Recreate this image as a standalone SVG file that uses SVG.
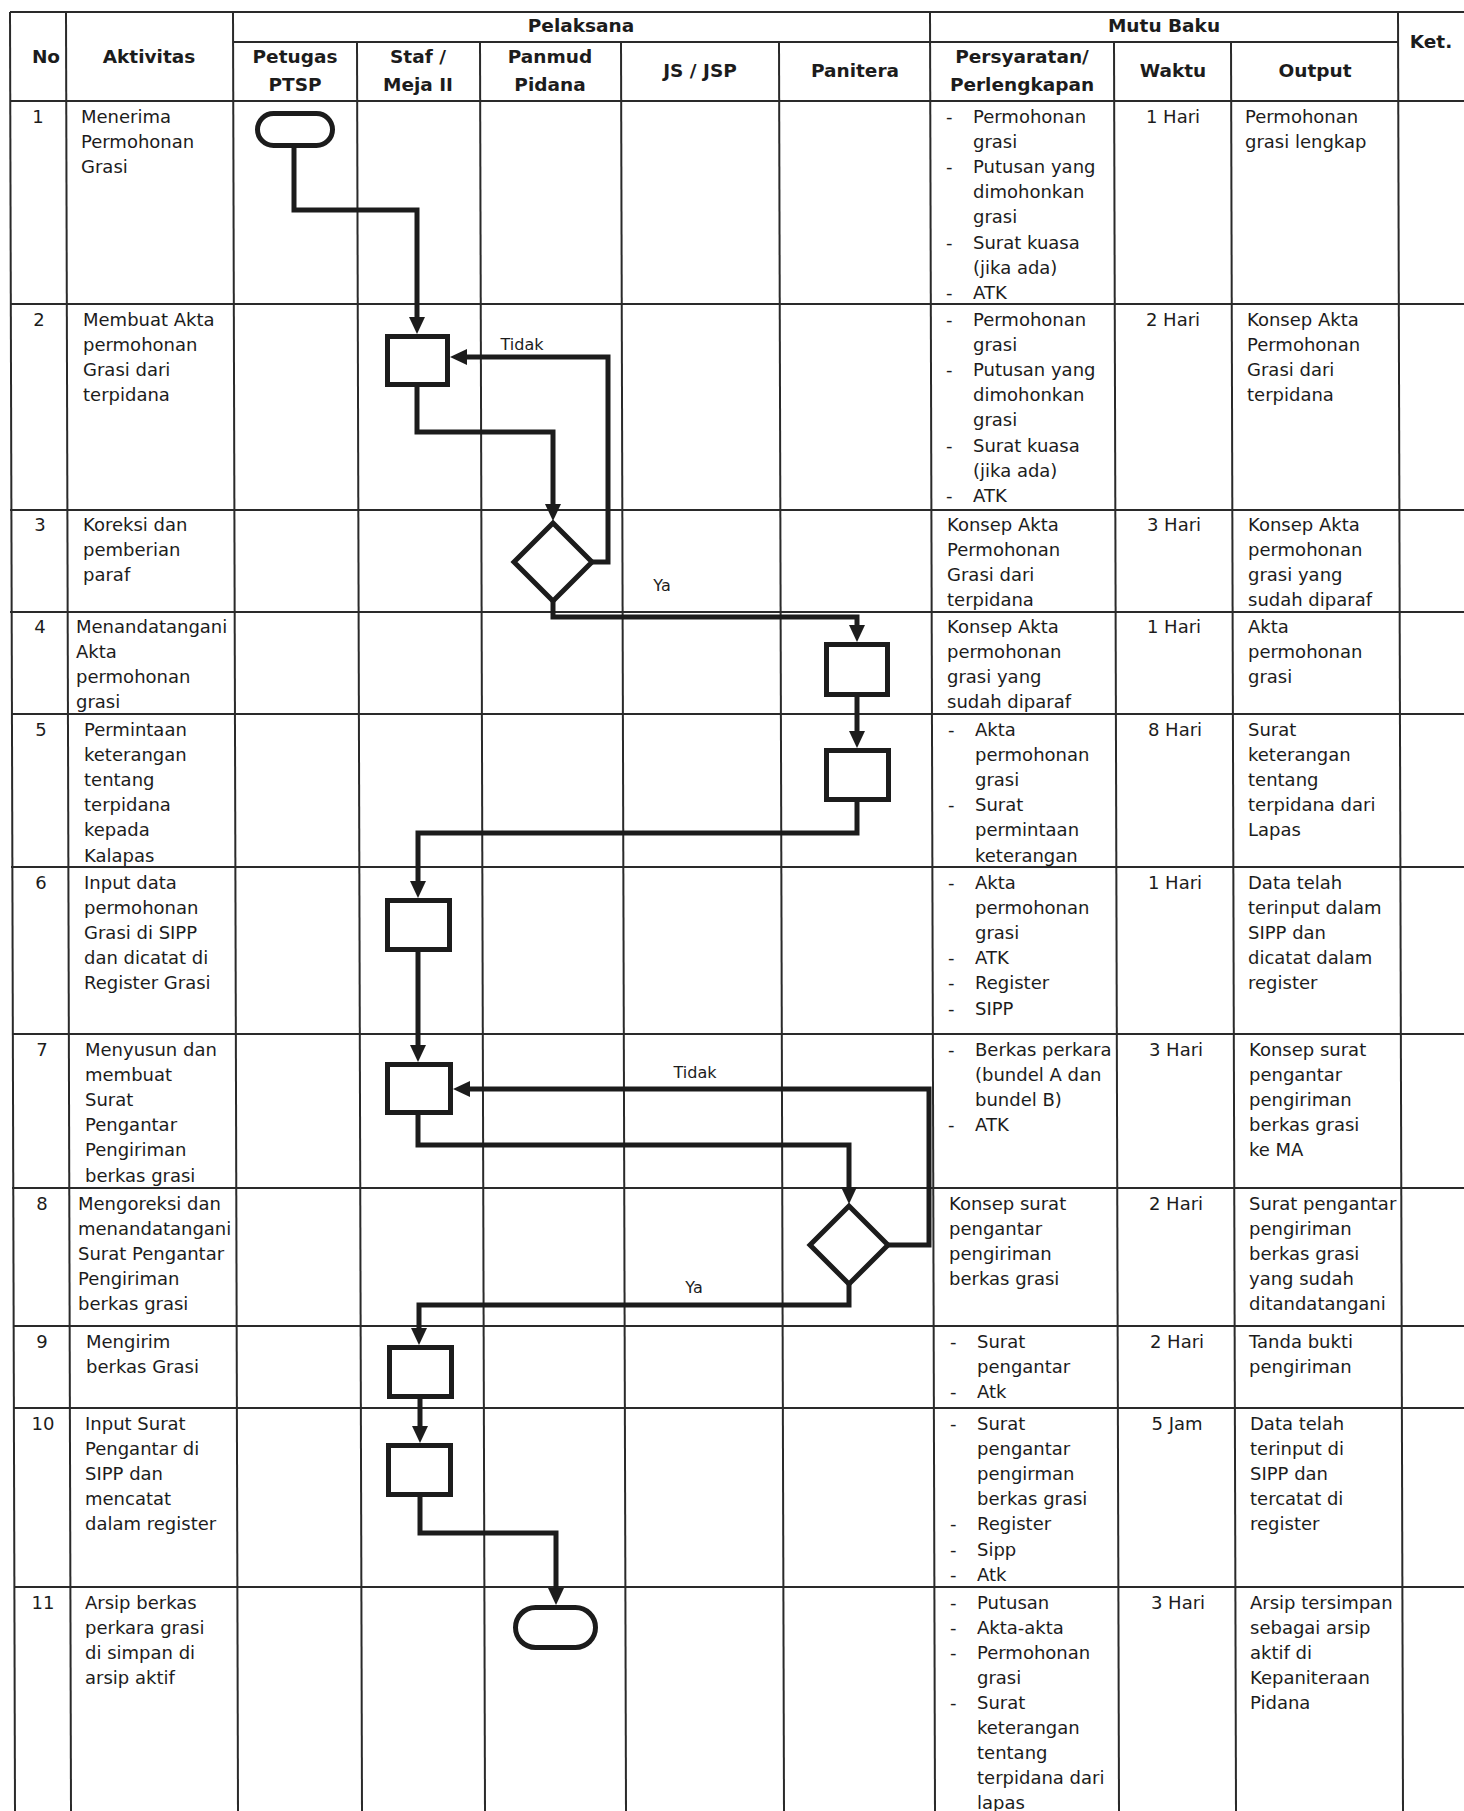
<svg xmlns="http://www.w3.org/2000/svg" width="1464" height="1811" viewBox="0 0 1464 1811">
<style>
.grid{stroke:#2a2a2a;stroke-width:2;fill:none}
.shape{fill:none;stroke:#1c1c1c;stroke-width:5}
.flow{fill:none;stroke:#1c1c1c;stroke-width:5;stroke-linejoin:miter;marker-end:url(#arr)}
text{font-family:"DejaVu Sans",Verdana,sans-serif;font-size:18px;fill:#1c1c1c}
.h{font-weight:bold;font-size:18.5px}
.c{text-anchor:middle}
.lbl{font-size:16px}
</style>
<defs>
<marker id="arr" markerUnits="userSpaceOnUse" markerWidth="17" markerHeight="16" refX="8" refY="8" orient="auto">
<path d="M0,0 L17,8 L0,16 z" fill="#1c1c1c"/>
</marker>
</defs>
<rect width="1464" height="1811" fill="#fff"/>

<g id="table">
<line class="grid" x1="10" y1="12" x2="1464" y2="12"/>
<line class="grid" x1="233" y1="42" x2="1398" y2="42"/>
<line class="grid" x1="10" y1="101" x2="1464" y2="101"/>
<line class="grid" x1="10" y1="304" x2="1464" y2="304"/>
<line class="grid" x1="10" y1="510" x2="1464" y2="510"/>
<line class="grid" x1="10" y1="612" x2="1464" y2="612"/>
<line class="grid" x1="11" y1="714" x2="1464" y2="714"/>
<line class="grid" x1="11" y1="867" x2="1464" y2="867"/>
<line class="grid" x1="12" y1="1034" x2="1464" y2="1034"/>
<line class="grid" x1="12" y1="1188" x2="1464" y2="1188"/>
<line class="grid" x1="13" y1="1326" x2="1464" y2="1326"/>
<line class="grid" x1="13" y1="1408" x2="1464" y2="1408"/>
<line class="grid" x1="14" y1="1587" x2="1464" y2="1587"/>
<line class="grid" x1="10" y1="12" x2="15" y2="1811"/>
<line class="grid" x1="66" y1="12" x2="71" y2="1811"/>
<line class="grid" x1="233" y1="12" x2="238" y2="1811"/>
<line class="grid" x1="357" y1="42" x2="362" y2="1811"/>
<line class="grid" x1="480" y1="42" x2="485" y2="1811"/>
<line class="grid" x1="621" y1="42" x2="626" y2="1811"/>
<line class="grid" x1="779" y1="42" x2="784" y2="1811"/>
<line class="grid" x1="930" y1="12" x2="935" y2="1811"/>
<line class="grid" x1="1114" y1="42" x2="1119" y2="1811"/>
<line class="grid" x1="1231" y1="42" x2="1236" y2="1811"/>
<line class="grid" x1="1398" y1="12" x2="1403" y2="1811"/>
</g>

<g id="header">
<text class="h c" x="46" y="63">No</text>
<text class="h c" x="149" y="63">Aktivitas</text>
<text class="h c" x="581" y="32">Pelaksana</text>
<text class="h c" x="1164" y="32">Mutu Baku</text>
<text class="h c" x="1431" y="48">Ket.</text>
<text class="h c" x="295" y="63">Petugas<tspan x="295" y="91">PTSP</tspan></text>
<text class="h c" x="418" y="63">Staf /<tspan x="418" y="91">Meja II</tspan></text>
<text class="h c" x="550" y="63">Panmud<tspan x="550" y="91">Pidana</tspan></text>
<text class="h c" x="700" y="77">JS / JSP</text>
<text class="h c" x="855" y="77">Panitera</text>
<text class="h c" x="1022" y="63">Persyaratan/<tspan x="1022" y="91">Perlengkapan</tspan></text>
<text class="h c" x="1173" y="77">Waktu</text>
<text class="h c" x="1315" y="77">Output</text>
</g>

<g id="row1">
<text class="c" x="38" y="123">1</text>
<text x="81" y="123">Menerima<tspan x="81" dy="25">Permohonan</tspan><tspan x="81" dy="25">Grasi</tspan></text>
<text x="946" y="123">-</text><text x="946" y="173.2">-</text><text x="946" y="248.5">-</text><text x="946" y="298.7">-</text>
<text x="973" y="123">Permohonan<tspan x="973" dy="25.1">grasi</tspan><tspan x="973" dy="25.1">Putusan yang</tspan><tspan x="973" dy="25.1">dimohonkan</tspan><tspan x="973" dy="25.1">grasi</tspan><tspan x="973" dy="25.1">Surat kuasa</tspan><tspan x="973" dy="25.1">(jika ada)</tspan><tspan x="973" dy="25.1">ATK</tspan></text>
<text class="c" x="1173" y="123">1 Hari</text>
<text x="1245" y="123">Permohonan<tspan x="1245" dy="25.1">grasi lengkap</tspan></text>
</g>

<g id="row2">
<text class="c" x="39" y="326">2</text>
<text x="83" y="326">Membuat Akta<tspan x="83" dy="25.1">permohonan</tspan><tspan x="83" dy="25.1">Grasi dari</tspan><tspan x="83" dy="25.1">terpidana</tspan></text>
<text x="946" y="326">-</text><text x="946" y="376.2">-</text><text x="946" y="451.5">-</text><text x="946" y="501.7">-</text>
<text x="973" y="326">Permohonan<tspan x="973" dy="25.1">grasi</tspan><tspan x="973" dy="25.1">Putusan yang</tspan><tspan x="973" dy="25.1">dimohonkan</tspan><tspan x="973" dy="25.1">grasi</tspan><tspan x="973" dy="25.1">Surat kuasa</tspan><tspan x="973" dy="25.1">(jika ada)</tspan><tspan x="973" dy="25.1">ATK</tspan></text>
<text class="c" x="1173" y="326">2 Hari</text>
<text x="1247" y="326">Konsep Akta<tspan x="1247" dy="25.1">Permohonan</tspan><tspan x="1247" dy="25.1">Grasi dari</tspan><tspan x="1247" dy="25.1">terpidana</tspan></text>
</g>

<g id="row3">
<text class="c" x="40" y="531">3</text>
<text x="83" y="531">Koreksi dan<tspan x="83" dy="25.1">pemberian</tspan><tspan x="83" dy="25.1">paraf</tspan></text>
<text x="947" y="531">Konsep Akta<tspan x="947" dy="25.1">Permohonan</tspan><tspan x="947" dy="25.1">Grasi dari</tspan><tspan x="947" dy="25.1">terpidana</tspan></text>
<text class="c" x="1174" y="531">3 Hari</text>
<text x="1248" y="531">Konsep Akta<tspan x="1248" dy="25.1">permohonan</tspan><tspan x="1248" dy="25.1">grasi yang</tspan><tspan x="1248" dy="25.1">sudah diparaf</tspan></text>
</g>

<g id="row4">
<text class="c" x="40" y="633">4</text>
<text x="76" y="633">Menandatangani<tspan x="76" dy="25.1">Akta</tspan><tspan x="76" dy="25.1">permohonan</tspan><tspan x="76" dy="25.1">grasi</tspan></text>
<text x="947" y="633">Konsep Akta<tspan x="947" dy="25.1">permohonan</tspan><tspan x="947" dy="25.1">grasi yang</tspan><tspan x="947" dy="25.1">sudah diparaf</tspan></text>
<text class="c" x="1174" y="633">1 Hari</text>
<text x="1248" y="633">Akta<tspan x="1248" dy="25.1">permohonan</tspan><tspan x="1248" dy="25.1">grasi</tspan></text>
</g>

<g id="row5">
<text class="c" x="41" y="736">5</text>
<text x="84" y="736">Permintaan<tspan x="84" dy="25.1">keterangan</tspan><tspan x="84" dy="25.1">tentang</tspan><tspan x="84" dy="25.1">terpidana</tspan><tspan x="84" dy="25.1">kepada</tspan><tspan x="84" dy="25.1">Kalapas</tspan></text>
<text x="948" y="736">-</text><text x="948" y="811.3">-</text>
<text x="975" y="736">Akta<tspan x="975" dy="25.1">permohonan</tspan><tspan x="975" dy="25.1">grasi</tspan><tspan x="975" dy="25.1">Surat</tspan><tspan x="975" dy="25.1">permintaan</tspan><tspan x="975" dy="25.1">keterangan</tspan></text>
<text class="c" x="1175" y="736">8 Hari</text>
<text x="1248" y="736">Surat<tspan x="1248" dy="25.1">keterangan</tspan><tspan x="1248" dy="25.1">tentang</tspan><tspan x="1248" dy="25.1">terpidana dari</tspan><tspan x="1248" dy="25.1">Lapas</tspan></text>
</g>

<g id="row6">
<text class="c" x="41" y="889">6</text>
<text x="84" y="889">Input data<tspan x="84" dy="25.1">permohonan</tspan><tspan x="84" dy="25.1">Grasi di SIPP</tspan><tspan x="84" dy="25.1">dan dicatat di</tspan><tspan x="84" dy="25.1">Register Grasi</tspan></text>
<text x="948" y="889">-</text><text x="948" y="964.3">-</text><text x="948" y="989.4">-</text><text x="948" y="1014.5">-</text>
<text x="975" y="889">Akta<tspan x="975" dy="25.1">permohonan</tspan><tspan x="975" dy="25.1">grasi</tspan><tspan x="975" dy="25.1">ATK</tspan><tspan x="975" dy="25.1">Register</tspan><tspan x="975" dy="25.1">SIPP</tspan></text>
<text class="c" x="1175" y="889">1 Hari</text>
<text x="1248" y="889">Data telah<tspan x="1248" dy="25.1">terinput dalam</tspan><tspan x="1248" dy="25.1">SIPP dan</tspan><tspan x="1248" dy="25.1">dicatat dalam</tspan><tspan x="1248" dy="25.1">register</tspan></text>
</g>

<g id="row7">
<text class="c" x="42" y="1056">7</text>
<text x="85" y="1056">Menyusun dan<tspan x="85" dy="25.1">membuat</tspan><tspan x="85" dy="25.1">Surat</tspan><tspan x="85" dy="25.1">Pengantar</tspan><tspan x="85" dy="25.1">Pengiriman</tspan><tspan x="85" dy="25.1">berkas grasi</tspan></text>
<text x="948" y="1056">-</text><text x="948" y="1131.3">-</text>
<text x="975" y="1056">Berkas perkara<tspan x="975" dy="25.1">(bundel A dan</tspan><tspan x="975" dy="25.1">bundel B)</tspan><tspan x="975" dy="25.1">ATK</tspan></text>
<text class="c" x="1176" y="1056">3 Hari</text>
<text x="1249" y="1056">Konsep surat<tspan x="1249" dy="25.1">pengantar</tspan><tspan x="1249" dy="25.1">pengiriman</tspan><tspan x="1249" dy="25.1">berkas grasi</tspan><tspan x="1249" dy="25.1">ke MA</tspan></text>
</g>

<g id="row8">
<text class="c" x="42" y="1210">8</text>
<text x="78" y="1210">Mengoreksi dan<tspan x="78" dy="25.1">menandatangani</tspan><tspan x="78" dy="25.1">Surat Pengantar</tspan><tspan x="78" dy="25.1">Pengiriman</tspan><tspan x="78" dy="25.1">berkas grasi</tspan></text>
<text x="949" y="1210">Konsep surat<tspan x="949" dy="25.1">pengantar</tspan><tspan x="949" dy="25.1">pengiriman</tspan><tspan x="949" dy="25.1">berkas grasi</tspan></text>
<text class="c" x="1176" y="1210">2 Hari</text>
<text x="1249" y="1210">Surat pengantar<tspan x="1249" dy="25.1">pengiriman</tspan><tspan x="1249" dy="25.1">berkas grasi</tspan><tspan x="1249" dy="25.1">yang sudah</tspan><tspan x="1249" dy="25.1">ditandatangani</tspan></text>
</g>

<g id="row9">
<text class="c" x="42" y="1348">9</text>
<text x="86" y="1348">Mengirim<tspan x="86" dy="25.1">berkas Grasi</tspan></text>
<text x="950" y="1348">-</text><text x="950" y="1398.2">-</text>
<text x="977" y="1348">Surat<tspan x="977" dy="25.1">pengantar</tspan><tspan x="977" dy="25.1">Atk</tspan></text>
<text class="c" x="1177" y="1348">2 Hari</text>
<text x="1249" y="1348">Tanda bukti<tspan x="1249" dy="25.1">pengiriman</tspan></text>
</g>

<g id="row10">
<text class="c" x="43" y="1430">10</text>
<text x="85" y="1430">Input Surat<tspan x="85" dy="25.1">Pengantar di</tspan><tspan x="85" dy="25.1">SIPP dan</tspan><tspan x="85" dy="25.1">mencatat</tspan><tspan x="85" dy="25.1">dalam register</tspan></text>
<text x="950" y="1430">-</text><text x="950" y="1530.4">-</text><text x="950" y="1555.5">-</text><text x="950" y="1580.6">-</text>
<text x="977" y="1430">Surat<tspan x="977" dy="25.1">pengantar</tspan><tspan x="977" dy="25.1">pengirman</tspan><tspan x="977" dy="25.1">berkas grasi</tspan><tspan x="977" dy="25.1">Register</tspan><tspan x="977" dy="25.1">Sipp</tspan><tspan x="977" dy="25.1">Atk</tspan></text>
<text class="c" x="1177" y="1430">5 Jam</text>
<text x="1250" y="1430">Data telah<tspan x="1250" dy="25.1">terinput di</tspan><tspan x="1250" dy="25.1">SIPP dan</tspan><tspan x="1250" dy="25.1">tercatat di</tspan><tspan x="1250" dy="25.1">register</tspan></text>
</g>

<g id="row11">
<text class="c" x="43" y="1609">11</text>
<text x="85" y="1609">Arsip berkas<tspan x="85" dy="25">perkara grasi</tspan><tspan x="85" dy="25">di simpan di</tspan><tspan x="85" dy="25">arsip aktif</tspan></text>
<text x="950" y="1609">-</text><text x="950" y="1634">-</text><text x="950" y="1659">-</text><text x="950" y="1709">-</text>
<text x="977" y="1609">Putusan<tspan x="977" dy="25">Akta-akta</tspan><tspan x="977" dy="25">Permohonan</tspan><tspan x="977" dy="25">grasi</tspan><tspan x="977" dy="25">Surat</tspan><tspan x="977" dy="25">keterangan</tspan><tspan x="977" dy="25">tentang</tspan><tspan x="977" dy="25">terpidana dari</tspan><tspan x="977" dy="24.5">lapas</tspan></text>
<text class="c" x="1178" y="1609">3 Hari</text>
<text x="1250" y="1609">Arsip tersimpan<tspan x="1250" dy="25">sebagai arsip</tspan><tspan x="1250" dy="25">aktif di</tspan><tspan x="1250" dy="25">Kepaniteraan</tspan><tspan x="1250" dy="25">Pidana</tspan></text>
</g>

<g id="node-start"><rect class="shape" x="257.5" y="113.5" width="75" height="32" rx="16"/></g>
<g id="node-2"><rect class="shape" x="387.5" y="336.5" width="60" height="48"/></g>
<g id="node-3"><polygon class="shape" points="553,523 592,562 553,601 514,562"/></g>
<g id="node-4"><rect class="shape" x="826.5" y="644.5" width="61" height="50"/></g>
<g id="node-5"><rect class="shape" x="826.5" y="750.5" width="62" height="49"/></g>
<g id="node-6"><rect class="shape" x="387.5" y="900.5" width="62" height="49"/></g>
<g id="node-7"><rect class="shape" x="387.5" y="1064.5" width="63" height="48"/></g>
<g id="node-8"><polygon class="shape" points="849,1206 888,1245 849,1284 810,1245"/></g>
<g id="node-9"><rect class="shape" x="389.5" y="1347.5" width="62" height="49"/></g>
<g id="node-10"><rect class="shape" x="388.5" y="1445.5" width="62" height="49"/></g>
<g id="node-end"><rect class="shape" x="515.5" y="1607.5" width="80" height="40" rx="20"/></g>

<g id="connectors">
<path class="flow" d="M294,148 V210 H417 V325"/>
<path class="flow" d="M417,387 V432 H553 V512"/>
<path class="flow" d="M592,562 H608 V357 H459"/>
<path class="flow" d="M553,601 V617 H857 V633"/>
<path class="flow" d="M857,697 V739"/>
<path class="flow" d="M857,802 V833 H418 V889"/>
<path class="flow" d="M418,952 V1053"/>
<path class="flow" d="M418,1115 V1145 H849 V1195"/>
<path class="flow" d="M888,1245 H929 V1089 H462"/>
<path class="flow" d="M849,1284 V1305 H419 V1336"/>
<path class="flow" d="M420,1399 V1434"/>
<path class="flow" d="M420,1497 V1533 H556 V1596"/>
<text class="lbl c" x="522" y="350">Tidak</text>
<text class="lbl c" x="662" y="591">Ya</text>
<text class="lbl c" x="695" y="1078">Tidak</text>
<text class="lbl c" x="694" y="1293">Ya</text>
</g>
</svg>
